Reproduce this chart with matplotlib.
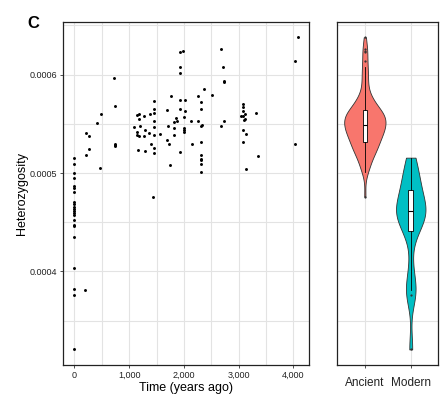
import numpy as np
import matplotlib
matplotlib.use("Agg")
import matplotlib.pyplot as plt
from matplotlib.ticker import FixedLocator, FuncFormatter

plt.rcParams['font.family'] = ['Liberation Sans', 'DejaVu Sans']

# ---------------- data ----------------
# heterozygosity values are in units of 1e-4
modern_time = [0]*22 + [190]
modern_het = [5.156, 5.095, 4.996, 4.949, 4.872, 4.851, 4.804, 4.702, 4.682, 4.657,
              4.632, 4.611, 4.591, 4.571, 4.525, 4.472, 4.462, 4.353, 4.033, 3.818,
              3.760, 3.209, 3.810]

ancient_time = [212, 267, 267, 212, 414, 487, 468, 725, 732, 732, 732, 732,
                1085, 1140, 1182, 1182, 1268, 1195, 1145, 1145, 1182, 1268, 1292, 1360, 1378,
                1446, 1446, 1446, 1446, 1446, 1446, 1153, 1292, 1396, 1446, 1446, 1433,
                1561, 1689, 1702, 1694, 1720, 1738, 1768, 1817, 1817, 1817, 1859, 1877,
                1921, 1982, 1921, 1921, 1921, 1921, 1921, 1995, 2013, 2013, 2005, 1995, 1995,
                2128, 2146, 2256, 2256, 2306, 2324, 2317, 2317, 2306, 2306, 2306, 2306, 2306, 2306,
                2371, 2507, 2677, 2683, 2726, 2719, 2732, 2732,
                3043, 3080, 3080, 3085, 3080, 3122, 3111, 3092, 3080, 3129, 3085, 3134,
                3323, 3354, 4026, 4086, 4031]
ancient_het = [5.405, 5.379, 5.243, 5.179, 5.506, 5.598, 5.050, 5.967, 5.683, 5.298, 5.283, 5.270,
               5.463, 5.584, 5.602, 5.547, 5.577, 5.480, 5.412, 5.385, 5.372, 5.372, 5.439, 5.405, 5.595,
               5.733, 5.648, 5.612, 5.527, 5.463, 5.382, 5.237, 5.222, 5.290, 5.253, 5.202, 4.760,
               5.392, 5.642, 5.480, 5.338, 5.290, 5.078, 5.780, 5.516, 5.460, 5.385, 5.561, 5.527,
               6.230, 6.240, 6.074, 6.020, 5.739, 5.648, 5.212, 5.564, 5.744, 5.632, 5.460, 5.419, 5.435,
               5.527, 5.290, 5.777, 5.527, 5.480, 5.490, 5.723, 5.648, 5.318, 5.186, 5.146, 5.128, 5.091, 5.007,
               5.855, 5.794, 6.264, 5.480, 5.527, 6.078, 5.936, 5.922,
               5.581, 5.703, 5.666, 5.632, 5.574, 5.602, 5.551, 5.541, 5.432, 5.392, 5.318, 5.037,
               5.605, 5.176, 6.142, 6.378, 5.290]

groups = ["Ancient", "Modern"]
x_ticks = [0, 1000, 2000, 3000, 4000]
y_ticks = [0.0004, 0.0005, 0.0006]

SCALE = 1e-4
anc_t = np.array(ancient_time, float)
anc_h = np.array(ancient_het) * SCALE
mod_t = np.array(modern_time, float)
mod_h = np.array(modern_het) * SCALE
all_t = np.concatenate([mod_t, anc_t])
all_h = np.concatenate([mod_h, anc_h])

colors = {"Ancient": "#F8766D", "Modern": "#00BFC4"}
grid_c = "#E3E3E3"

W, H = 445, 398
fig = plt.figure(figsize=(W/100, H/100), dpi=100)
bottom = (H - 365) / H
height = (365 - 21.7) / H
ax = fig.add_axes([63.3/W, bottom, (309.3-63.3)/W, height])
ax2 = fig.add_axes([337.3/W, bottom, 101/W, height])

def expand(a, f=0.05):
    lo, hi = np.min(a), np.max(a)
    d = (hi - lo) * f
    return lo - d, hi + d

ylim = expand(all_h)
xlim = expand(all_t)

# ---------- left scatter ----------
ax.set_xlim(*xlim)
ax.set_ylim(*ylim)
ax.xaxis.set_major_locator(FixedLocator(x_ticks))
ax.xaxis.set_minor_locator(FixedLocator([500, 1500, 2500, 3500]))
ax.yaxis.set_major_locator(FixedLocator(y_ticks))
ax.yaxis.set_minor_locator(FixedLocator([0.00035, 0.00045, 0.00055, 0.00065]))
ax.xaxis.set_major_formatter(FuncFormatter(lambda v, p: f"{int(v):,}"))
ax.yaxis.set_major_formatter(FuncFormatter(lambda v, p: f"{v:.4f}"))
ax.grid(True, which='both', color=grid_c, linewidth=0.8)
ax.set_axisbelow(True)
ax.scatter(all_t, all_h, s=4.5, color='black', linewidths=0, zorder=3)
ax.tick_params(which='major', length=2.5, width=0.6, color='#333333', labelsize=6.5, pad=2,
               labelcolor='#222222')
ax.tick_params(which='minor', length=0)
ax.set_xlabel("Time (years ago)", fontsize=9, labelpad=1)
ax.set_ylabel("Heterozygosity", fontsize=9, labelpad=1)

# ---------- right violin ----------
def kde_nrd0(data, n=512):
    data = np.asarray(data)
    sd = np.std(data, ddof=1)
    q75, q25 = np.percentile(data, [75, 25])
    lo = min(sd, (q75 - q25) / 1.34)
    if lo == 0:
        lo = sd
    bw = 0.9 * lo * len(data) ** (-0.2)
    ys = np.linspace(data.min(), data.max(), n)
    dens = np.exp(-0.5 * ((ys[:, None] - data[None, :]) / bw) ** 2).sum(1)
    dens /= (len(data) * bw * np.sqrt(2 * np.pi))
    return ys, dens

datasets = {"Ancient": anc_h, "Modern": mod_h}
kdes = {g: kde_nrd0(datasets[g]) for g in groups}
maxd = max(d.max() for _, d in kdes.values())
for i, g in enumerate(groups, start=1):
    ys, d = kdes[g]
    hw = 0.45 * d / maxd
    ax2.fill_betweenx(ys, i - hw, i + hw, facecolor=colors[g], edgecolor='#333333',
                      linewidth=0.6, zorder=2)
bp = ax2.boxplot([datasets[g] for g in groups], positions=[1, 2], widths=0.1,
                 patch_artist=True, whis=1.5, manage_ticks=False,
                 boxprops=dict(facecolor='white', edgecolor='black', linewidth=0.6),
                 medianprops=dict(color='black', linewidth=0.8),
                 whiskerprops=dict(color='black', linewidth=0.6),
                 capprops=dict(linewidth=0),
                 flierprops=dict(marker='o', markersize=1.6, markerfacecolor='#333333',
                                 markeredgewidth=0))
for k in bp:
    for art in bp[k]:
        art.set_zorder(3)
ax2.set_xlim(0.4, 2.6)
ax2.set_ylim(*ylim)
ax2.xaxis.set_major_locator(FixedLocator([1, 2]))
ax2.set_xticklabels(groups)
ax2.yaxis.set_major_locator(FixedLocator(y_ticks))
ax2.yaxis.set_minor_locator(FixedLocator([0.00035, 0.00045, 0.00055, 0.00065]))
ax2.grid(True, which='both', color=grid_c, linewidth=0.8)
ax2.set_axisbelow(True)
ax2.tick_params(axis='y', which='both', length=0, labelleft=False)
ax2.tick_params(axis='x', length=2.5, width=0.6, color='#333333', labelsize=8.5, pad=6,
                labelcolor='#222222')

for a in (ax, ax2):
    for s in a.spines.values():
        s.set_color('#222222')
        s.set_linewidth(0.9)

fig.text(33/W, 1 - 24/H, "C", fontsize=12, fontweight='bold', ha='center', va='center')

fig.savefig("out.png", dpi=100)
